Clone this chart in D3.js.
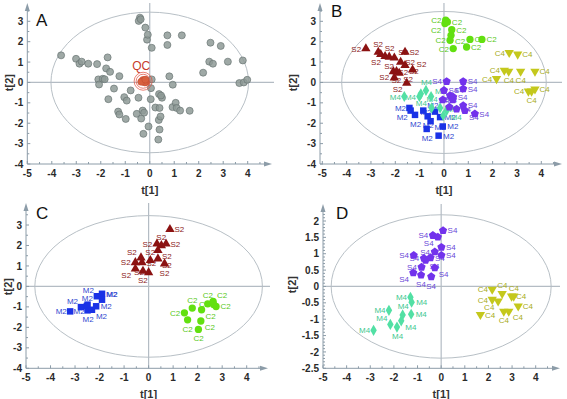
<!DOCTYPE html>
<html><head><meta charset="utf-8">
<script src="https://cdn.jsdelivr.net/npm/d3@7"></script>
<style>body{margin:0;background:#fff}svg{display:block}</style>
</head><body>
<svg id="c" width="567" height="399"></svg>
<script>
// ---------- DATA ----------
const xTicks = [-5,-4,-3,-2,-1,0,1,2,3,4];
const yTicksABC = [-4,-3,-2,-1,0,1,2,3];
const yTicksD = [-2.5,-2,-1.5,-1,-0.5,0,0.5,1,1.5,2];
const panelLetters = ["A","B","C","D"];

// Panel A: all samples (grey) and QC
const A_samples = [[-3.62,1.33],[-3.01,1.16],[-2.87,0.92],[-2.78,1.02],[-2.51,0.92],[-2.15,0.90],[-1.72,1.23],[-1.78,0.69],[-1.62,0.52],[-2.10,0.15],[-2.07,-0.10],[-1.92,0.18],[-1.84,0.16],[-1.24,0.31],[-1.46,-0.30],[-1.69,-0.82],[-1.04,-0.72],[-0.94,-0.89],[-0.78,-0.39],[-0.46,-0.75],[-1.29,-1.43],[-1.24,-1.57],[-0.98,-1.79],[-0.53,-1.54],[-0.35,-1.77],[-0.29,-1.38],[-0.23,-1.48],[-0.26,-2.52],[-0.05,-2.16],[0.35,-2.80],[0.40,-2.31],[0.37,-1.84],[0.44,-1.67],[0.23,-1.23],[0.40,-1.25],[0.04,-0.82],[0.38,-0.57],[0.50,-0.75],[0.46,-0.64],[0.05,-0.28],[0.08,0.15],[0.80,0.30],[0.94,-0.11],[0.93,-1.21],[1.06,-1.00],[1.10,-1.25],[1.24,-1.38],[1.63,-1.39],[2.18,0.48],[2.43,1.02],[2.58,0.92],[2.48,1.95],[2.90,1.79],[3.19,1.02],[3.80,1.08],[3.66,-0.03],[3.84,0.00],[3.98,0.13],[0.72,2.31],[1.31,2.31],[0.72,1.84],[0.08,1.70],[-0.11,2.10],[-0.08,2.34],[-0.18,2.69],[-0.40,3.18],[-0.45,3.02],[-0.37,3.10]];
const A_qc = [[-0.30,0.05],[-0.22,0.10],[-0.15,0.02],[-0.28,0.12],[-0.20,0.00],[-0.35,0.03],[-0.18,0.14]];
const A_qcCentre = [-0.27,0.06];

// Panel B
const B_S2 = [[-3.21,1.66],[-2.70,1.49],[-2.60,1.38],[-2.42,1.28],[-2.25,1.25],[-2.04,1.21],[-1.78,1.00],[-1.60,1.49],[-1.60,0.84],[-1.29,0.62],[-2.08,0.54],[-1.95,0.54],[-1.84,0.46],[-2.04,0.23],[-1.53,-0.03]];
const B_C2 = [[0.07,3.05],[0.14,2.97],[0.04,2.89],[0.32,2.59],[0.29,2.31],[0.25,2.07],[0.38,1.66],[0.93,1.74],[1.07,2.11],[1.56,2.11]];
const B_C4 = [[2.16,0.18],[2.48,0.59],[2.66,0.54],[3.15,0.54],[3.74,0.54],[2.68,1.46],[3.03,1.38],[3.47,-0.43],[3.60,-0.43],[3.74,-0.33]];
const B_S4 = [[0.11,0.05],[0.79,0.05],[0.79,-0.31],[0.00,-0.39],[0.25,-0.64],[0.38,-0.72],[-0.05,-0.85],[0.36,-0.85],[0.79,-1.13],[0.86,-1.38],[1.27,-1.54],[0.52,-1.30],[0.22,-1.21]];
const B_M2 = [[-1.42,-1.25],[-1.37,-1.38],[-1.19,-1.59],[-0.85,-1.38],[-0.67,-1.66],[-0.55,-1.90],[-0.16,-1.70],[-0.05,-2.16],[-0.71,-2.28],[-0.22,-2.61],[-0.37,-1.43]];
const B_M4 = [[-1.63,-0.69],[-1.01,-0.69],[-0.74,-0.39],[-0.53,-0.69],[-0.95,-0.56],[-0.51,-1.25],[-0.16,-1.25],[0.11,-1.38],[-0.03,-1.62]];

// Panel C
const C_S2 = [[0.87,2.79],[0.34,2.08],[0.52,2.00],[0.71,2.08],[0.38,1.76],[-0.31,1.40],[-0.54,1.17],[-0.27,1.16],[0.07,1.27],[0.38,1.35],[0.65,1.11],[-0.54,0.86],[-0.23,0.75],[0.00,0.68]];
const C_M2 = [[-3.20,-1.22],[-2.76,-1.01],[-2.52,-0.96],[-2.49,-1.17],[-2.31,-1.14],[-2.14,-0.97],[-2.11,-0.48],[-1.90,-0.36],[-1.90,-0.65],[-2.49,-0.89]];
const C_C2 = [[1.46,-1.29],[1.59,-1.63],[1.78,-1.06],[2.16,-1.14],[2.13,-1.69],[2.03,-2.10],[2.41,-0.85],[2.63,-0.73],[2.75,-0.98],[2.65,-0.88]];

// Panel D
const D_S4 = [[0.08,1.71],[-0.35,1.56],[-0.14,1.51],[0.01,1.20],[-0.27,1.06],[-1.16,0.95],[-0.73,0.86],[-0.66,0.80],[-0.45,0.88],[0.01,0.95],[-0.83,0.59],[-0.27,0.57],[-1.18,0.42],[-0.85,0.35],[-0.42,0.30]];
const D_M4 = [[-1.30,-0.33],[-1.25,-0.48],[-2.21,-0.73],[-1.63,-0.87],[-1.27,-0.85],[-1.69,-1.05],[-2.15,-1.16],[-1.87,-1.24],[-2.86,-1.34]];
const D_C4 = [[2.16,-0.09],[2.58,-0.22],[2.16,-0.40],[2.41,-0.45],[2.98,-0.30],[3.07,-0.30],[3.26,-0.60],[2.65,-0.76],[2.86,-0.76],[1.66,-0.86]];

// ---------- STYLE ----------
const groupStyle = {
  S2:{shape:"tri",  fill:"#8b1212", text:"#8b2020"},
  C2:{shape:"circ", fill:"#62e010", text:"#58c820"},
  C4:{shape:"tridown", fill:"#c4c81c", text:"#a8ac20"},
  S4:{shape:"pent", fill:"#7232ec", text:"#6a48d8"},
  M2:{shape:"sq",   fill:"#1a32e6", text:"#3048d0"},
  M4:{shape:"diam", fill:"#52e0a4", text:"#40c890"}
};

const panels = [
  {letter:"A", x0:27.3, x4:247.7, ytA:3, ypA:21.3, ytB:-4, ypB:164, yTicks:yTicksABC, yMinor:0.5,
   axisX:27.3, xEnd:272, yTop:3, hEnd:274, ell:{rx:98.8, ry:70.3}, lx:36, ly:26, tOff:14,
   groups:[]},
  {letter:"B", x0:322.3, x4:541.3, ytA:3, ypA:21.3, ytB:-4, ypB:164, yTicks:yTicksABC, yMinor:0.5,
   axisX:320, xEnd:562, yTop:3, hEnd:562, ell:{rx:102.3, ry:71}, lx:331, ly:17, tOff:23,
   groups:[["S2",B_S2],["C2",B_C2],["C4",B_C4],["M2",B_M2],["M4",B_M4],["S4",B_S4]]},
  {letter:"C", x0:26, x4:246.7, ytA:3, ypA:225, ytB:-4, ypB:368.3, yTicks:yTicksABC, yMinor:0.5,
   axisX:26, xEnd:268, yTop:203, hEnd:270, ell:{rx:113.8, ry:70.8}, lx:36, ly:219, tOff:14,
   groups:[["S2",C_S2],["M2",C_M2],["C2",C_C2]]},
  {letter:"D", x0:323, x4:535.7, ytA:2, ypA:221, ytB:-2.5, ypB:368.3, yTicks:yTicksD, yMinor:0.1,
   axisX:323, xEnd:560, yTop:204, hEnd:560, ell:{rx:110, ry:71.7}, lx:336, ly:219, tOff:27,
   groups:[["M4",D_M4],["C4",D_C4],["S4",D_S4]]}
];

const svg = d3.select("#c");
const axisCol = "#8c9ca8";
const refCol = "#b4bcc4";
const tickFont = "bold 10px 'Liberation Sans', Arial, sans-serif";
const titleFont = "bold 11px 'Liberation Sans', Arial, sans-serif";

function pentPath(r){
  const pts = d3.range(5).map(k=>{const a=(-90+k*72)*Math.PI/180;return [r*Math.cos(a), r*Math.sin(a)];});
  return "M"+pts.map(p=>p.join(",")).join("L")+"Z";
}
function shapePath(s){
  switch(s){
    case "tri": return d3.symbol(d3.symbolTriangle, 38)();
    case "tridown": return d3.symbol(d3.symbolTriangle, 38)();
    case "circ": return d3.symbol(d3.symbolCircle, 42)();
    case "sq": return d3.symbol(d3.symbolSquare, 42)();
    case "diam": return d3.symbol(d3.symbolDiamond, 36)();
    case "pent": return pentPath(4.3);
  }
}
function overlap(a,b){return a.x<b.x+b.w && b.x<a.x+a.w && a.y<b.y+b.h && b.y<a.y+a.h;}

panels.forEach((p,i)=>{
  const x = d3.scaleLinear().domain([-5,4]).range([p.x0,p.x4]);
  const y = d3.scaleLinear().domain([p.ytB,p.ytA]).range([p.ypB,p.ypA]);
  const g = svg.append("g");
  const y0 = y(0), xz = x(0), base = p.ypB;

  // ellipse
  g.append("ellipse").attr("cx",xz).attr("cy",y0).attr("rx",p.ell.rx).attr("ry",p.ell.ry)
    .attr("fill","none").attr("stroke","#b8c0c6").attr("stroke-width",1);
  // reference lines
  g.append("line").attr("x1",p.axisX).attr("x2",p.hEnd).attr("y1",y0).attr("y2",y0)
    .attr("stroke",refCol).attr("stroke-width",1.2);
  g.append("line").attr("x1",xz).attr("x2",xz).attr("y1",p.yTop).attr("y2",base)
    .attr("stroke",refCol).attr("stroke-width",1.2);

  // axes
  g.append("line").attr("x1",p.axisX).attr("x2",p.xEnd-4).attr("y1",base).attr("y2",base).attr("stroke",axisCol);
  g.append("path").attr("d",`M${p.xEnd},${base}L${p.xEnd-8},${base-2.5}L${p.xEnd-8},${base+2.5}Z`).attr("fill",axisCol);
  g.append("line").attr("x1",p.axisX).attr("x2",p.axisX).attr("y1",base).attr("y2",p.yTop+4).attr("stroke",axisCol);
  g.append("path").attr("d",`M${p.axisX},${p.yTop}L${p.axisX-2.5},${p.yTop+8}L${p.axisX+2.5},${p.yTop+8}Z`).attr("fill",axisCol);

  // x ticks
  const xMin = d3.range(-5,4.51,0.5);
  g.selectAll(null).data(xMin).join("line")
    .attr("x1",d=>x(d)).attr("x2",d=>x(d)).attr("y1",base).attr("y2",d=>base-(Number.isInteger(d)?3:2))
    .attr("stroke",axisCol);
  g.selectAll(null).data(xTicks).join("text")
    .attr("x",d=>x(d)).attr("y",base+13).attr("text-anchor","middle")
    .style("font",tickFont).attr("fill","#2a2a2a").text(d=>d);
  // y ticks
  const yLo = p.ytB, yHi = p.ytA + 0.4;
  const yMin = d3.range(0, Math.round((yHi-yLo)/p.yMinor)+1).map(k=>+(yLo+k*p.yMinor).toFixed(2)).filter(v=>y(v)>p.yTop+8);
  g.selectAll(null).data(yMin).join("line")
    .attr("x1",p.axisX).attr("x2",d=>p.axisX+(p.yTicks.includes(d)?3:2)).attr("y1",d=>y(d)).attr("y2",d=>y(d))
    .attr("stroke",axisCol);
  g.selectAll(null).data(p.yTicks).join("text")
    .attr("x",p.axisX-4).attr("y",d=>y(d)+3.6).attr("text-anchor","end")
    .style("font",tickFont).attr("fill","#2a2a2a").text(d=>d);

  // axis titles
  g.append("text").attr("x",xz).attr("y",base+30).attr("text-anchor","middle")
    .style("font",titleFont).attr("fill","#333").text("t[1]");
  g.append("text").attr("transform",`translate(${p.axisX-p.tOff},${(p.ypA+base)/2 - 10}) rotate(-90)`).attr("text-anchor","middle")
    .style("font",titleFont).attr("fill","#333").text("t[2]");

  // letter
  g.append("text").attr("x",p.lx).attr("y",p.ly).style("font","17px 'Liberation Sans', Arial, sans-serif")
    .attr("fill","#111").text(panelLetters[i]);

  if(p.letter==="A"){
    g.selectAll(null).data(A_samples).join("circle")
      .attr("cx",d=>x(d[0])).attr("cy",d=>y(d[1])).attr("r",3.5)
      .attr("fill","#8e9a97").attr("fill-opacity",0.85).attr("stroke","#6a7674").attr("stroke-width",0.7);
    g.selectAll(null).data(A_qc).join("circle")
      .attr("cx",d=>x(d[0])).attr("cy",d=>y(d[1])).attr("r",3.5)
      .attr("fill","#d8603e").attr("stroke","#c04a30").attr("stroke-width",0.5);
    [7,9].forEach(r=>g.append("circle").attr("cx",x(A_qcCentre[0])).attr("cy",y(A_qcCentre[1])).attr("r",r)
      .attr("fill","none").attr("stroke","#e04a3a").attr("stroke-width",0.7));
    g.append("text").attr("x",x(A_qcCentre[0])-2).attr("y",y(A_qcCentre[1])-11).attr("text-anchor","middle")
      .style("font","12px 'Liberation Sans', Arial, sans-serif").attr("fill","#c83a2a").text("QC");
  }

  // greedy label placement (right, left, below, above) avoiding other labels and markers
  const markerBoxes = [];
  p.groups.forEach(([name,pts])=>pts.forEach(d=>markerBoxes.push({x:x(d[0])-3.5,y:y(d[1])-3.5,w:7,h:7,px:x(d[0]),py:y(d[1])})));
  const placed = [];
  const labelLayer = g.append("g"), markLayer = g.append("g");
  p.groups.forEach(([name,pts])=>{
    const st = groupStyle[name];
    const w = 10, h = 7;
    pts.forEach(d=>{
      const px = x(d[0]), py = y(d[1]);
      const cands = [[4.5,3],[-4.5-w,3],[-w/2,12],[-w/2,-5.5],[4,-3],[4,9],[-4-w,-3],[-4-w,9]];
      let best=null, bestScore=1e9;
      cands.forEach((c,ci)=>{
        const box = {x:px+c[0], y:py+c[1]-h, w:w, h:h};
        let s = ci*0.3;
        placed.forEach(b=>{ if(overlap(box,b)) s+=10; });
        markerBoxes.forEach(b=>{ if(!(b.px===px&&b.py===py) && overlap(box,b)) s+=3; });
        if(s<bestScore){bestScore=s;best=box;}
      });
      placed.push(best);
      labelLayer.append("text").attr("x",best.x).attr("y",best.y+h)
        .style("font","8px 'Liberation Sans', Arial, sans-serif").attr("fill",st.text).text(name);
    });
    const path = shapePath(st.shape);
    markLayer.selectAll(null).data(pts).join("path")
      .attr("d",path)
      .attr("transform",d=>`translate(${x(d[0])},${y(d[1])})${st.shape==="tridown"?" rotate(180)":""}`)
      .attr("fill",st.fill);
  });
});
</script>
</body></html>
